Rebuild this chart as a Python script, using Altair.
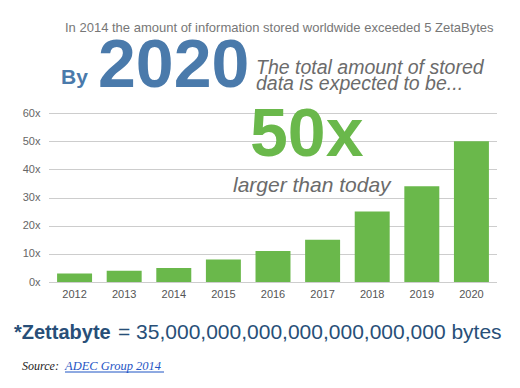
import altair as alt
import pandas as pd

years = ["2012", "2013", "2014", "2015", "2016", "2017", "2018", "2019", "2020"]
growth = [3, 4, 5, 8, 11, 15, 25, 34, 50]
y_ticks = [0, 10, 20, 30, 40, 50, 60]

headline = "In 2014 the amount of information stored worldwide exceeded 5 ZetaBytes"
by_word = "By"
big_year = "2020"
sub_line1 = "The total amount of stored"
sub_line2 = "data is expected to be..."
big_factor = "50x"
factor_caption = "larger than today"
zb_bold = "*Zettabyte"
zb_rest = "= 35,000,000,000,000,000,000,000 bytes"
source_label = "Source:"
source_link = "ADEC Group 2014"

FONT = "Liberation Sans"
GREEN = "#6ab84b"
BLUE = "#4a7aab"
GRAY = "#6b6b6b"
NAVY = "#284f78"

df = pd.DataFrame({"year": years, "growth": growth})

bars = alt.Chart(df).mark_bar(color=GREEN).encode(
    x=alt.X("year:N", sort=years,
            scale=alt.Scale(paddingInner=0.295, paddingOuter=0.163),
            axis=alt.Axis(title=None, labelAngle=0, ticks=False, domain=False,
                          labelFont=FONT, labelFontSize=11, labelColor="#555555",
                          labelPadding=6, grid=False)),
    y=alt.Y("growth:Q", scale=alt.Scale(domain=[0, 60], nice=False),
            axis=alt.Axis(title=None, values=y_ticks, labelExpr="datum.value + 'x'",
                          ticks=False, domain=False, grid=True, gridColor="#9a9a9a",
                          gridDash=[1, 1], gridWidth=1, labelFont=FONT,
                          labelFontSize=11, labelColor="#666666", labelPadding=9)),
)


def label(text, x, y, size, color, weight="normal", style="normal", font=FONT, align="left"):
    return alt.Chart(pd.DataFrame({"t": [text]})).mark_text(
        align=align, baseline="alphabetic", font=font, fontSize=size,
        fontWeight=weight, fontStyle=style, color=color,
    ).encode(x=alt.value(x), y=alt.value(y), text="t:N")


texts = [
    label(headline, 16, -81, 13, "#777777"),
    label(by_word, 12, -29, 21, BLUE, weight="bold"),
    label(big_year, 49, -26, 68, BLUE, weight="bold"),
    label(sub_line1, 207, -39, 19.5, GRAY, style="italic"),
    label(sub_line2, 207, -23, 19.5, GRAY, style="italic"),
    label(big_factor, 201, 43, 68, GREEN, weight="bold"),
    label(factor_caption, 184, 79, 21, GRAY, style="italic"),
    label(zb_bold, -35, 226, 20, NAVY, weight="bold"),
    label(zb_rest, 69, 226, 21, NAVY),
    label(source_label, -27, 257, 12, "#222222", style="italic", font="Liberation Serif"),
    label(source_link, 16, 257, 12.5, "#1f55c4", style="italic", font="Liberation Serif"),
]

underline = alt.Chart(pd.DataFrame({"t": [source_link]})).mark_rule(
    color="#1f55c4", strokeWidth=1
).encode(x=alt.value(16), x2=alt.value(115), y=alt.value(259))

chart = alt.layer(bars, *texts, underline).properties(
    width=448, height=169,
    autosize=alt.AutoSizeParams(type="none"),
    padding={"left": 41, "top": 105, "right": 15, "bottom": 95},
    background="white",
).configure_view(stroke=None)

chart.save("out.html", embed_options={"renderer": "svg", "actions": False})
